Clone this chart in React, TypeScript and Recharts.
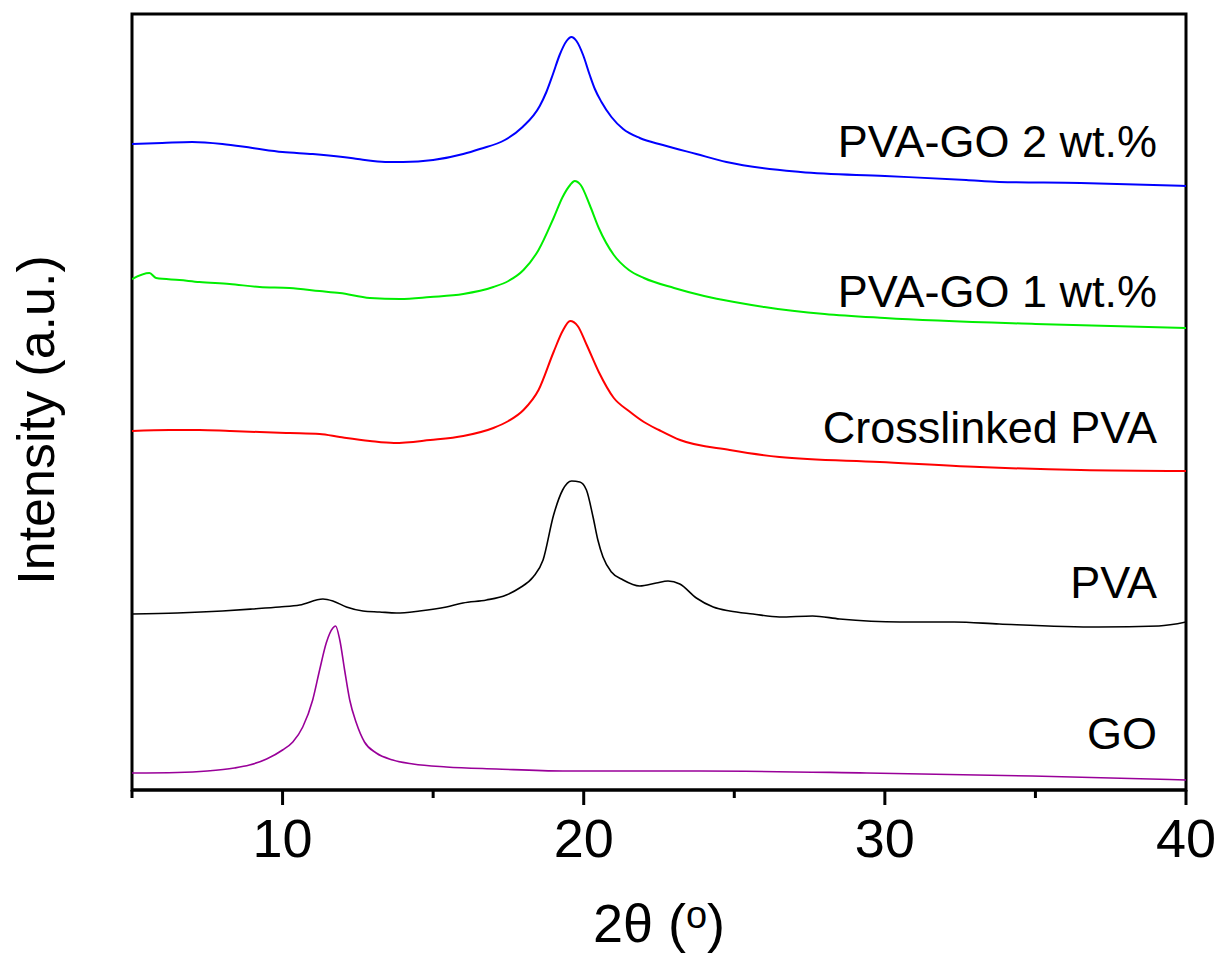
import React from "react"
import {
  LineChart,
  Line,
  XAxis,
  YAxis,
  ReferenceArea,
  ReferenceDot,
} from "recharts"

const FONT = '"Liberation Sans", Arial, sans-serif'

// 2θ positions (deg) and offset intensities (a.u.)
const pvaGo2Angle = [5, 6, 7, 8, 9, 10, 11, 12, 12.5, 13, 13.5, 14, 15, 16, 16.55, 17.38, 17.97, 18.54, 18.76, 18.98, 19.2, 19.43, 19.59, 19.76, 19.98, 20.2, 20.37, 20.59, 20.92, 21.31, 21.86, 22.63, 23.74, 24.74, 27.2, 30, 32.7, 33.8, 36.5, 40]
const pvaGo2Counts = [646, 647, 648, 646, 642, 638, 636, 633, 631, 629, 628, 628, 630, 636, 641, 650, 663, 684, 698, 716, 735, 749, 753, 749, 735, 715, 701, 688, 673, 661, 652, 645, 636, 628, 618, 614, 610, 608, 607, 604]

const pvaGo1Angle = [5, 5.58, 5.8, 6.58, 7.24, 8.24, 9.24, 10.23, 11.23, 11.9, 12.9, 13.9, 14.9, 16, 17, 17.5, 18, 18.5, 19, 19.3, 19.55, 19.7, 19.9, 20.2, 20.5, 21, 21.5, 22, 23, 24, 25, 26, 28, 30, 35, 40]
const pvaGo1Counts = [511, 517, 512, 510, 508, 506, 503, 502, 499, 497, 492, 491, 493, 496, 503, 509, 520, 540, 572, 593, 605, 609, 605, 585, 562, 535, 520, 512, 502, 494, 488, 483, 476, 472, 466, 462]

const xlinkAngle = [5, 6.25, 7.24, 8.24, 9.24, 10.23, 11.23, 11.9, 12.9, 13.7, 14.9, 16, 17, 17.5, 18, 18.5, 19, 19.3, 19.55, 19.8, 20.1, 20.5, 21, 21.5, 22, 22.5, 23.2, 24.85, 26.5, 29.83, 33.15, 36.5, 40]
const xlinkCounts = [359, 360, 360, 359, 358, 357, 356, 353, 349, 347, 350, 354, 362, 369, 380, 400, 438, 459, 469, 464, 445, 418, 392, 379, 368, 360, 350, 340, 333, 328, 323, 320, 319]

const pvaAngle = [5, 6.5, 8, 9, 9.9, 10.57, 11.34, 11.67, 12.12, 12.67, 13.22, 13.78, 14.55, 15.44, 15.99, 16.77, 17.43, 17.87, 18.32, 18.65, 19, 19.3, 19.6, 19.87, 20.09, 20.31, 20.47, 20.64, 20.92, 21.31, 21.86, 22.41, 22.8, 23.19, 23.74, 24.3, 24.85, 25.62, 26.5, 27.6, 28.5, 30.5, 32.3, 33.8, 37.1, 39.1, 40]
const pvaCounts = [176, 177, 179, 181, 183, 185, 191, 189, 183, 179, 178, 177, 179, 183, 187, 190, 195, 202, 213, 230, 275, 300, 309, 308, 300, 273, 250, 233, 218, 210, 204, 207, 209, 206, 192, 183, 179, 176, 173, 174, 171, 168, 168, 166, 163, 164, 168]

const goAngle = [5, 6.5, 7.5, 8.4, 8.9, 9.47, 10, 10.34, 10.67, 11, 11.23, 11.45, 11.67, 11.76, 11.9, 12.06, 12.23, 12.45, 12.72, 13.11, 13.66, 14.33, 15.44, 17.1, 19.31, 23.86, 29.4, 34.9, 40]
const goCounts = [17, 17.5, 19, 22, 25, 31, 40, 48, 63, 90, 120, 147, 162, 164, 150, 120, 90, 67, 48, 37, 30, 26, 23, 21, 19, 19, 17, 14, 10]

const xTicks = [5, 10, 15, 20, 25, 30, 35, 40]

const seriesNames = ["PVA-GO 2 wt.%", "PVA-GO 1 wt.%", "Crosslinked PVA", "PVA", "GO"]
const seriesColors = ["#0000ff", "#00ee00", "#ff0000", "#000000", "#990099"]
const labelLevels = [649, 499, 363, 208, 57]

const toPoints = (a: number[], c: number[]) => a.map((x, i) => ({ x, y: c[i] }))

const seriesData = [
  toPoints(pvaGo2Angle, pvaGo2Counts),
  toPoints(pvaGo1Angle, pvaGo1Counts),
  toPoints(xlinkAngle, xlinkCounts),
  toPoints(pvaAngle, pvaCounts),
  toPoints(goAngle, goCounts),
]

function AxisTick(props: any) {
  const { x, y, payload } = props
  const major = payload.value % 10 === 0
  return (
    <g>
      <line x1={x} x2={x} y1={y} y2={y + (major ? 15 : 8)} stroke="#000" strokeWidth={3} />
      {major ? (
        <text x={x} y={y + 67} textAnchor="middle" fontSize={54} fontFamily={FONT} fill="#000">
          {payload.value}
        </text>
      ) : null}
    </g>
  )
}

export default function App() {
  return (
    <div style={{ width: 1214, height: 946 }}>
      <LineChart
        width={1214}
        height={946}
        margin={{ top: 6, right: 36, bottom: 14, left: 0 }}
      >
        <XAxis
          dataKey="x"
          type="number"
          domain={[5, 40]}
          ticks={xTicks}
          interval={0}
          allowDataOverflow
          height={150}
          tickSize={0}
          tickMargin={0}
          tickLine={false}
          axisLine={{ stroke: "#000", strokeWidth: 3 }}
          tick={<AxisTick />}
          label={() => (
            <text x={651} y={934} textAnchor="middle" fontSize={54} fontFamily={FONT} fill="#000">
              2θ (<tspan fontSize={38} dy={-14}>o</tspan>
              <tspan dy={14}>)</tspan>
            </text>
          )}
        />
        <YAxis
          type="number"
          domain={[0, 776]}
          allowDataOverflow
          width={124}
          tick={false}
          tickLine={false}
          axisLine={false}
          label={() => (
            <text
              x={28}
              y={412}
              transform="rotate(-90, 28, 412)"
              textAnchor="middle"
              dominantBaseline="central"
              fontSize={52}
              fontFamily={FONT}
              fill="#000"
            >
              Intensity (a.u.)
            </text>
          )}
        />
        <ReferenceArea
          x1={5}
          x2={40}
          y1={0}
          y2={776}
          fill="none"
          stroke="#000"
          strokeWidth={3}
          ifOverflow="visible"
        />
        {seriesData.map((d, i) => (
          <Line
            key={seriesNames[i]}
            data={d}
            dataKey="y"
            name={seriesNames[i]}
            type="monotone"
            stroke={seriesColors[i]}
            strokeWidth={i < 3 ? 2 : 1.6}
            dot={false}
            isAnimationActive={false}
          />
        ))}
        {seriesNames.map((n, i) => (
          <ReferenceDot
            key={n}
            x={40}
            y={labelLevels[i]}
            r={0}
            fill="none"
            stroke="none"
            label={{ value: n, position: "left", offset: 29, fontSize: 45, fontFamily: FONT, fill: "#000" }}
          />
        ))}
      </LineChart>
    </div>
  )
}
